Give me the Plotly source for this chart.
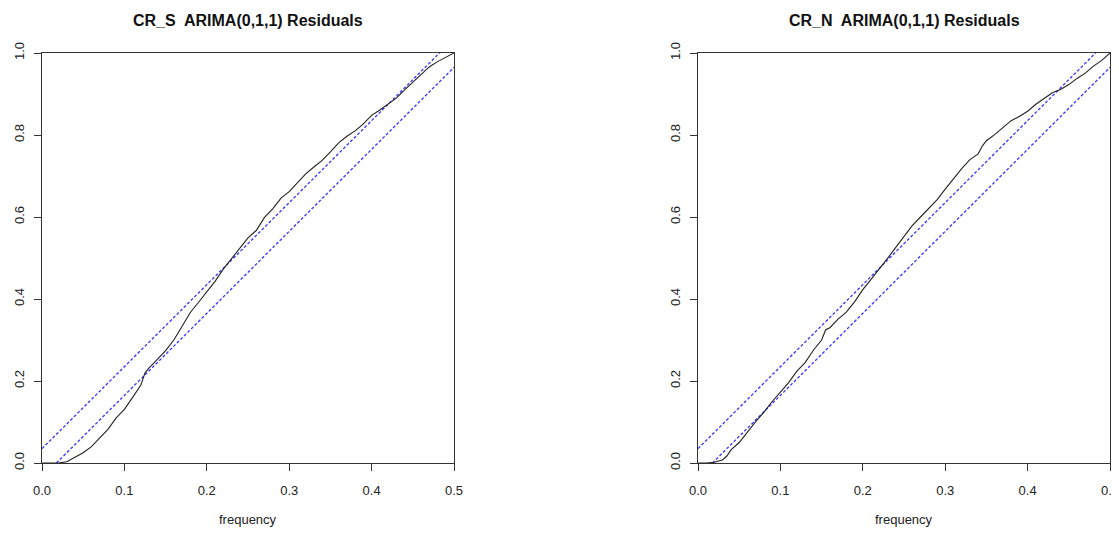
import plotly.graph_objects as go

# frequency grid (cycles per unit time) and cumulative periodogram values
freq = [0.00, 0.01, 0.02, 0.03, 0.04, 0.05, 0.06, 0.07, 0.08, 0.09,
        0.10, 0.11, 0.12, 0.125, 0.13, 0.14, 0.15, 0.16, 0.17, 0.18, 0.19,
        0.20, 0.21, 0.22, 0.23, 0.24, 0.25, 0.26, 0.27, 0.28, 0.29,
        0.30, 0.31, 0.32, 0.33, 0.34, 0.35, 0.36, 0.37, 0.38, 0.39,
        0.40, 0.41, 0.42, 0.43, 0.44, 0.45, 0.46, 0.47, 0.48, 0.49, 0.50]

cr_s = [0.000, 0.000, 0.000, 0.003, 0.013, 0.025, 0.040, 0.060, 0.082, 0.110,
        0.131, 0.160, 0.190, 0.220, 0.232, 0.253, 0.274, 0.300, 0.333, 0.367, 0.392,
        0.418, 0.443, 0.473, 0.498, 0.525, 0.549, 0.567, 0.599, 0.620, 0.646,
        0.662, 0.684, 0.705, 0.722, 0.738, 0.759, 0.781, 0.797, 0.810, 0.827,
        0.848, 0.861, 0.875, 0.890, 0.910, 0.928, 0.948, 0.966, 0.979, 0.989, 1.000]

freq_n = [0.00, 0.01, 0.02, 0.03, 0.035, 0.04, 0.05, 0.06, 0.07, 0.08, 0.09,
          0.10, 0.11, 0.12, 0.13, 0.14, 0.15, 0.155, 0.16, 0.17, 0.18, 0.19,
          0.20, 0.21, 0.22, 0.23, 0.24, 0.25, 0.26, 0.27, 0.28, 0.29,
          0.30, 0.31, 0.32, 0.33, 0.34, 0.345, 0.35, 0.36, 0.37, 0.38, 0.39,
          0.40, 0.41, 0.42, 0.43, 0.44, 0.45, 0.46, 0.47, 0.48, 0.49, 0.50]

cr_n = [0.000, 0.000, 0.002, 0.008, 0.017, 0.032, 0.050, 0.076, 0.101, 0.124, 0.150,
        0.173, 0.196, 0.224, 0.245, 0.275, 0.300, 0.325, 0.330, 0.351, 0.368, 0.393,
        0.423, 0.448, 0.473, 0.499, 0.526, 0.554, 0.579, 0.600, 0.621, 0.642,
        0.668, 0.693, 0.718, 0.740, 0.754, 0.773, 0.786, 0.801, 0.818, 0.835, 0.845,
        0.858, 0.875, 0.888, 0.903, 0.911, 0.923, 0.938, 0.951, 0.968, 0.982, 1.000]

titles = ["CR_S  ARIMA(0,1,1) Residuals", "CR_N  ARIMA(0,1,1) Residuals"]
x_ticks = [0.0, 0.1, 0.2, 0.3, 0.4, 0.5]
x_tick_text = ["0.0", "0.1", "0.2", "0.3", "0.4", "0.5"]
y_ticks = [0.0, 0.2, 0.4, 0.6, 0.8, 1.0]
y_tick_text = ["0.0", "0.2", "0.4", "0.6", "0.8", "1.0"]
crit = 0.035
xm = 0.5

# page body has an 8px margin; compensate so the drawing lands where the reference has it
OFF = 8
W, H = 1119 - OFF, 543 - OFF
FONT = "Liberation Sans, Arial, Helvetica, sans-serif"


def px_x(x):
    return (x - OFF) / W


def px_y(y):
    return 1 - (y - OFF) / H


fig = go.Figure()

panels = [
    dict(x=freq, y=cr_s, xa="x", ya="y", dom=[px_x(42), px_x(454)]),
    dict(x=freq_n, y=cr_n, xa="x2", ya="y2", dom=[px_x(698), px_x(1110)]),
]
ydom = [px_y(463), px_y(53)]

for i, p in enumerate(panels):
    fig.add_trace(go.Scatter(x=[0, xm * (1 - crit)], y=[crit, 1], mode="lines",
                             line=dict(color="#3535ff", width=1.3, dash="3px,2px"),
                             xaxis=p["xa"], yaxis=p["ya"], showlegend=False,
                             hoverinfo="skip"))
    fig.add_trace(go.Scatter(x=[xm * crit, xm], y=[0, 1 - crit], mode="lines",
                             line=dict(color="#3535ff", width=1.3, dash="3px,2px"),
                             xaxis=p["xa"], yaxis=p["ya"], showlegend=False,
                             hoverinfo="skip"))
    fig.add_trace(go.Scatter(x=p["x"], y=p["y"], mode="lines",
                             line=dict(color="#222222", width=1.1),
                             xaxis=p["xa"], yaxis=p["ya"], showlegend=False,
                             hoverinfo="skip"))

axis_common = dict(showline=True, linecolor="#333333", linewidth=1, mirror=True,
                   ticks="outside", ticklen=7, tickcolor="#333333", tickwidth=1,
                   showgrid=False, zeroline=False, automargin=False,
                   ticklabeloverflow="allow",
                   tickfont=dict(family=FONT, size=13, color="#222222"))

layout = dict(
    template="none",
    width=W, height=H,
    margin=dict(l=0, r=0, t=0, b=0),
    paper_bgcolor="white", plot_bgcolor="white",
    showlegend=False,
)
for i, p in enumerate(panels):
    sfx = "" if i == 0 else str(i + 1)
    layout["xaxis" + sfx] = dict(axis_common, domain=p["dom"], range=[0, 0.5],
                                 tickvals=x_ticks, ticktext=x_tick_text,
                                 anchor="y" + sfx, ticklabelstandoff=8)
    layout["yaxis" + sfx] = dict(axis_common, domain=ydom, range=[0, 1],
                                 tickvals=y_ticks, ticktext=y_tick_text,
                                 tickangle=-90, anchor="x" + sfx, ticklabelstandoff=5)

fig.update_layout(**layout)

annotations = []
for i, p in enumerate(panels):
    cx = (p["dom"][0] + p["dom"][1]) / 2
    annotations.append(dict(text="<b>" + titles[i] + "</b>", x=cx, y=px_y(20),
                            xref="paper", yref="paper", showarrow=False,
                            xanchor="center", yanchor="middle",
                            font=dict(family=FONT, size=16, color="#111111")))
    annotations.append(dict(text="frequency", x=cx, y=px_y(519),
                            xref="paper", yref="paper", showarrow=False,
                            xanchor="center", yanchor="middle",
                            font=dict(family=FONT, size=13, color="#222222")))
fig.update_layout(annotations=annotations)

fig.write_html("out.html")
